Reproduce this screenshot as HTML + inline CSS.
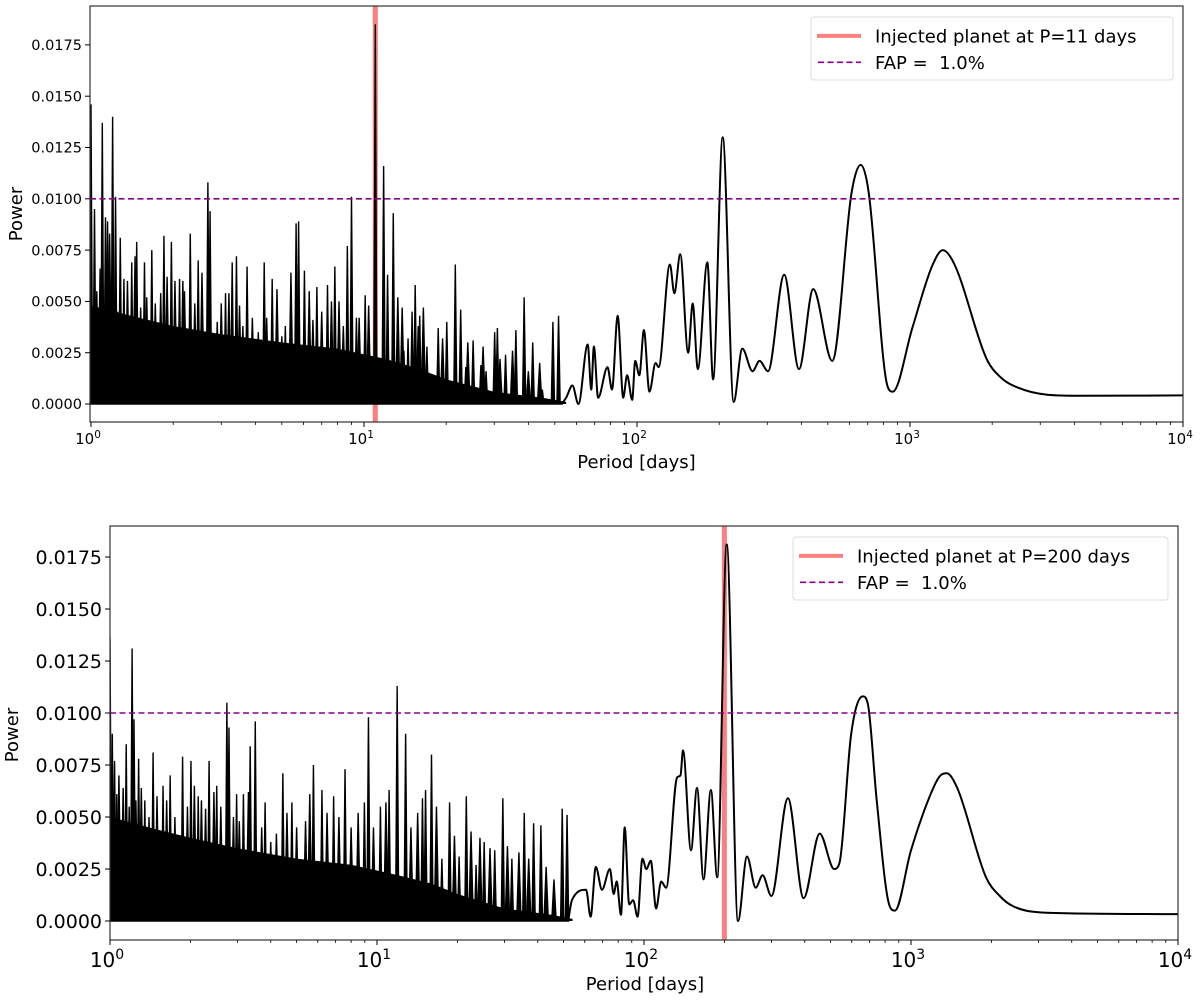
<!DOCTYPE html>
<html><head><meta charset="utf-8">
<style>
html,body{margin:0;padding:0;background:#fff;}
svg{display:block;font-family:"DejaVu Sans","Liberation Sans",sans-serif;}
</style></head>
<body>
<svg id="chart" width="1200" height="1001" viewBox="0 0 1200 1001"></svg>
<script>
// ---------- data: top panel ----------
const topSpikeP=[1.0,1.03,1.10,1.13,1.15,1.20,1.23,1.28,1.32,1.41,1.47,1.57,1.67,1.85,1.97,2.11,2.31,2.47,2.68,2.73,3.11,3.29,3.41,3.73,4.31,4.61,5.15,5.64,5.76,6.05,6.72,7.35,7.82,8.69,9.0,9.38,10.1,11.0,11.8,12.2,12.8,14.0,14.5,15.0,15.4,16.0,17.0,18.7,20.1,21.6,22.6,23.6,25.1,26.8,28.0,30.1,30.8,33.0,36.0,38.6,41.5,45.0,49.2,51.6];
const topSpikeV=[0.0146,0.0095,0.0137,0.0091,0.0089,0.0140,0.0101,0.0081,0.0061,0.0069,0.0079,0.0069,0.0075,0.0082,0.0079,0.0061,0.0083,0.0070,0.0108,0.0094,0.0054,0.0069,0.0072,0.0067,0.0069,0.0061,0.0038,0.0088,0.0089,0.0065,0.0057,0.0058,0.0067,0.0077,0.0101,0.0042,0.0053,0.0185,0.0116,0.0063,0.0093,0.0026,0.0032,0.0045,0.0058,0.0043,0.0028,0.0037,0.0040,0.0068,0.0046,0.0018,0.0031,0.0019,0.0016,0.0035,0.0037,0.0024,0.0036,0.0052,0.0030,0.0007,0.0040,0.0043];
const topMinorP=[1.05,1.08,1.17,1.25,1.36,1.45,1.52,1.6,1.72,1.8,1.9,2.03,2.17,2.2,2.4,2.55,2.9,3.0,3.2,3.5,3.6,3.9,4.1,4.4,4.8,5.0,5.4,6.3,6.5,7.0,7.6,8.1,8.4,9.6,10.4,13.3,13.8,15.8,16.5,19.4,24,27.3,31.5,35,40,44];
const topMinorV=[0.0055,0.0066,0.0083,0.0045,0.0060,0.0072,0.0047,0.0052,0.0049,0.0054,0.0062,0.0060,0.0060,0.0055,0.0049,0.0064,0.0040,0.0049,0.0054,0.0048,0.0038,0.0042,0.0035,0.0042,0.0056,0.0033,0.0064,0.0055,0.0041,0.0045,0.0050,0.0050,0.0038,0.0042,0.0048,0.0052,0.0047,0.0038,0.0047,0.0032,0.0030,0.0028,0.0022,0.0026,0.0016,0.0020];
const topEnvP=[1,1.5,2,3,5,8,12,16,20,30,45,55];
const topEnvV=[0.0048,0.0042,0.0038,0.0034,0.0030,0.0027,0.0022,0.0017,0.0012,0.0006,0.0003,0.0001];
const topCurveP=[53,55,58,61,66,68,69.5,72,78,81,85,89,92,96,98.5,102,106,111,117,120,132,137,144,154,160,167,181,190,206,226,243,265,281,302,346,392,442,519,611,660,706,826,864,1022,1203,1319,1456,1908,2148,2482,3180,4180,10000];
const topCurveV=[0.0000,0.0003,0.0009,0.0000,0.0029,0.0007,0.0028,0.0003,0.0018,0.0007,0.0043,0.0003,0.0014,0.0002,0.0021,0.0014,0.0036,0.0006,0.0020,0.0018,0.0068,0.0054,0.0073,0.0025,0.0049,0.0017,0.0069,0.0012,0.0130,0.0001,0.0027,0.0016,0.0021,0.0016,0.0063,0.0017,0.0056,0.0021,0.0103,0.01165,0.0103,0.0009,0.0006,0.00375,0.0067,0.0075,0.0068,0.0022,0.0013,0.0008,0.00045,0.0004,0.00042];
const topInjected=11;
// ---------- data: bottom panel ----------
const botSpikeP=[1.0,1.02,1.04,1.06,1.15,1.21,1.23,1.28,1.35,1.45,1.58,1.68,1.87,2.01,2.14,2.35,2.51,2.74,2.79,2.98,3.16,3.35,3.50,3.81,4.44,4.80,5.78,6.22,6.88,7.59,8.97,9.29,10.3,11.1,11.9,12.8,14.8,15.2,16.0,17.5,18.7,20.3,21.6,23.5,25.2,27.6,29.6,32.0,35.6,38.6,41.1,49.4,51.5];
const botSpikeV=[0.0136,0.0090,0.0077,0.0061,0.0085,0.0131,0.0097,0.0078,0.0058,0.0081,0.0065,0.0070,0.0079,0.0077,0.0060,0.0077,0.0065,0.0105,0.0093,0.0061,0.0061,0.0084,0.0096,0.0057,0.0071,0.0057,0.0075,0.0063,0.0060,0.0073,0.0057,0.0098,0.0055,0.0063,0.0113,0.0090,0.0059,0.0063,0.0080,0.0030,0.0057,0.0031,0.0060,0.0027,0.0038,0.0034,0.0059,0.0030,0.0052,0.0047,0.0046,0.0054,0.0051];
const botMinorP=[1.08,1.12,1.18,1.25,1.31,1.4,1.5,1.63,1.75,1.95,2.07,2.2,2.28,2.45,2.6,2.9,3.05,3.3,3.7,4.0,4.2,4.6,5.0,5.4,5.6,6.5,7.2,8.0,8.5,9.7,10.8,13.4,14.2,16.7,19.5,22.5,24.3,26.5,30.8,34,37,43,46];
const botMinorV=[0.0070,0.0064,0.0055,0.0058,0.0064,0.0050,0.0060,0.0058,0.0050,0.0055,0.0065,0.0058,0.0054,0.0062,0.0055,0.0050,0.0048,0.0062,0.0045,0.0038,0.0042,0.0052,0.0045,0.0048,0.0061,0.0052,0.0050,0.0045,0.0052,0.0045,0.0057,0.0045,0.0052,0.0055,0.0041,0.0043,0.0040,0.0035,0.0036,0.0033,0.0030,0.0026,0.0020];
const botEnvP=[1,1.5,2,3,5,8,12,16,20,30,45,54];
const botEnvV=[0.0050,0.0044,0.0040,0.0035,0.0030,0.0027,0.0022,0.0018,0.0013,0.0006,0.0003,0.0001];
const botCurveP=[52,53.7,60.7,63.1,66,69.6,74.5,77,79,82,84.7,88,91,94.6,98.6,102,106,111,116,121,133,137,140,150,158,167,178,188,204,225,243,262,278,300,346,396,455,515,540,597,660,690,744,828,870,1000,1203,1290,1360,1490,1910,2150,2420,3220,10000];
const botCurveV=[0.0000,0.0010,0.0015,0.0002,0.0026,0.0015,0.0025,0.0013,0.0019,0.0003,0.0045,0.0008,0.0010,0.0002,0.0030,0.0025,0.0029,0.0006,0.0019,0.0016,0.0069,0.0070,0.0082,0.0034,0.0064,0.0020,0.0063,0.0021,0.0181,0.0000,0.0031,0.0016,0.0022,0.0012,0.0059,0.0011,0.0042,0.0025,0.0028,0.0090,0.0108,0.0104,0.0058,0.0008,0.0005,0.0034,0.0063,0.0070,0.0071,0.0064,0.0021,0.0012,0.0007,0.0004,0.00033];
const botInjected=200;
const yTickVals=[0,0.0025,0.005,0.0075,0.01,0.0125,0.015,0.0175];
const yTickLabels=["0.0000","0.0025","0.0050","0.0075","0.0100","0.0125","0.0150","0.0175"];
const xTickExps=[0,1,2,3,4];
const fapLevel=0.01;

const NS="http://www.w3.org/2000/svg";
const svg=document.getElementById('chart');
function mk(tag,attrs,parent){const e=document.createElementNS(NS,tag);for(const k in attrs)e.setAttribute(k,attrs[k]);(parent||svg).appendChild(e);return e;}

function monotonePath(pts){
  const n=pts.length;const dx=[],m=[],t=new Array(n);
  for(let i=0;i<n-1;i++){dx.push(pts[i+1][0]-pts[i][0]);m.push((pts[i+1][1]-pts[i][1])/dx[i]);}
  t[0]=m[0];t[n-1]=m[n-2];
  for(let i=1;i<n-1;i++){t[i]=(m[i-1]*m[i]<=0)?0:(m[i-1]+m[i])/2;}
  for(let i=0;i<n-1;i++){if(m[i]===0){t[i]=0;t[i+1]=0;continue;}const a=t[i]/m[i],b=t[i+1]/m[i],s=a*a+b*b;if(s>9){const k=3/Math.sqrt(s);t[i]=k*a*m[i];t[i+1]=k*b*m[i];}}
  let d='M'+pts[0][0].toFixed(1)+','+pts[0][1].toFixed(1);
  for(let i=0;i<n-1;i++){const h=dx[i]/3;
    d+=' C'+(pts[i][0]+h).toFixed(1)+','+(pts[i][1]+t[i]*h).toFixed(1)+' '+(pts[i+1][0]-h).toFixed(1)+','+(pts[i+1][1]-t[i+1]*h).toFixed(1)+' '+pts[i+1][0].toFixed(1)+','+pts[i+1][1].toFixed(1);}
  return d;
}

function panel(cfg){
  const g=mk('g',{});
  
  
  const xs=p=>cfg.x0+Math.log10(p)*cfg.dec;
  const ys=v=>cfg.y0-v/0.0025*cfg.yu;
  const clip='clip-'+cfg.name;
  const cp=mk('clipPath',{id:clip},g);mk('rect',{x:cfg.L,y:cfg.T,width:cfg.R-cfg.L,height:cfg.B-cfg.T},cp);
  const plot=mk('g',{'clip-path':'url(#'+clip+')'},g);
  const inj=mk('line',{x1:xs(cfg.inj),x2:xs(cfg.inj),y1:cfg.T,y2:cfg.B,stroke:'#fa7f7f',"stroke-width":5},plot);
  
  
  let d='M'+xs(cfg.envP[0])+','+ys(0);
  cfg.envP.forEach((p,i)=>{d+=' L'+xs(p).toFixed(1)+','+ys(cfg.envV[i]).toFixed(1);});
  d+=' L'+xs(cfg.envP[cfg.envP.length-1])+','+ys(0)+'Z';
  const env=mk('path',{d:d,fill:'#000'},plot);
  
  
  function spikes(P,V,w){
    P.forEach((p,i)=>{
      const x=xs(p),y=ys(V[i]);
      const s=mk('polyline',{points:(x-w)+','+ys(0)+' '+x+','+y+' '+(x+w)+','+ys(0),fill:'#000',stroke:'#000','stroke-width':1.4,'stroke-linejoin':'miter'},plot);
      
      
    });
  }
  spikes(cfg.mnP,cfg.mnV,2.2);
  spikes(cfg.spP,cfg.spV,1.6);
  mk('line',{x1:cfg.L,x2:xs(cfg.cP[0])+1,y1:ys(0),y2:ys(0),stroke:'#000','stroke-width':1.5},plot);
  const pts=cfg.cP.map((p,i)=>[xs(p),ys(cfg.cV[i])]);
  const curve=mk('path',{d:monotonePath(pts),fill:'none',stroke:'#000','stroke-width':2,'stroke-linejoin':'round'},plot);
  
  
  const fap=mk('line',{x1:cfg.L,x2:cfg.R,y1:ys(fapLevel),y2:ys(fapLevel),stroke:'#8b008b','stroke-width':1.6,'stroke-dasharray':'6,3.5'},plot);
  
  
  const fr=mk('rect',{x:cfg.L,y:cfg.T,width:cfg.R-cfg.L,height:cfg.B-cfg.T,fill:'none',stroke:'#333','stroke-width':1.2},g);
  
  
  yTickVals.forEach((v,i)=>{
    const y=ys(v);
    mk('line',{x1:cfg.L-5,x2:cfg.L,y1:y,y2:y,stroke:'#000','stroke-width':1},g);
    const t=mk('text',{x:cfg.L-8,y:y+cfg.yfs*0.36,'text-anchor':'end','font-size':cfg.yfs,fill:'#000'},g);
    t.textContent=yTickLabels[i];
    
    
  });
  xTickExps.forEach(e=>{
    const x=xs(Math.pow(10,e));
    mk('line',{x1:x,x2:x,y1:cfg.B,y2:cfg.B+5,stroke:'#000','stroke-width':1},g);
    const t=mk('text',{x:x-3,y:cfg.B+cfg.xfs+7,'text-anchor':'middle','font-size':cfg.xfs,fill:'#000'},g);
    t.textContent='10';
    const sup=mk('tspan',{dy:-cfg.xfs*0.4,'font-size':cfg.xfs*0.7},t);sup.textContent=String(e);
    
    
    if(e<4)for(let m=2;m<10;m++){const xm=xs(m*Math.pow(10,e));mk('line',{x1:xm,x2:xm,y1:cfg.B,y2:cfg.B+3,stroke:'#000','stroke-width':0.8},g);}
  });
  const xl=mk('text',{x:(cfg.L+cfg.R)/2+(cfg.xlOff||0),y:cfg.B+cfg.xlDy,'text-anchor':'middle','font-size':cfg.lfs,fill:'#000'},g);
  xl.textContent='Period [days]';
  
  
  const yl=mk('text',{x:0,y:0,'text-anchor':'middle','font-size':cfg.lfs,fill:'#000',transform:'translate('+cfg.ylX+','+cfg.ylY+') rotate(-90)'},g);
  yl.textContent='Power';
  
  
  const lg=mk('g',{},g);
  
  
  mk('rect',{x:cfg.lgX,y:cfg.lgY,width:cfg.lgW,height:cfg.lgH,rx:3,fill:'#fff','fill-opacity':0.85,stroke:'#ddd','stroke-width':1},lg);
  const r1=cfg.lgY+cfg.lgH*0.3, r2=cfg.lgY+cfg.lgH*0.72;
  mk('line',{x1:cfg.lgX+6,x2:cfg.lgX+50,y1:r1,y2:r1,stroke:'#fa7f7f','stroke-width':4},lg);
  mk('line',{x1:cfg.lgX+7,x2:cfg.lgX+50,y1:r2,y2:r2,stroke:'#8b008b','stroke-width':1.6,'stroke-dasharray':'6,3.5'},lg);
  const t1=mk('text',{x:cfg.lgX+64,y:r1+cfg.lgfs*0.36,'font-size':cfg.lgfs,fill:'#000'},lg);
  t1.textContent='Injected planet at P='+cfg.inj+' days';
  
  
  const t2=mk('text',{x:cfg.lgX+64,y:r2+cfg.lgfs*0.36,'font-size':cfg.lgfs,fill:'#000'},lg);
  t2.textContent='FAP =  1.0%';
  t2.style.whiteSpace='pre';
  
  
}

panel({name:'top-panel',L:90,R:1183,T:6,B:422,x0:91,dec:273,y0:404,yu:51.3,
  spP:topSpikeP,spV:topSpikeV,mnP:topMinorP,mnV:topMinorV,envP:topEnvP,envV:topEnvV,cP:topCurveP,cV:topCurveV,inj:topInjected,
  yfs:14.5,xfs:15,lfs:18,xlDy:46,ylX:22,ylY:214,
  lgX:811,lgY:17,lgW:362,lgH:63,lgfs:18});
panel({name:'bottom-panel',L:110,R:1178,T:526,B:940,x0:110,dec:267,y0:921,yu:52,
  spP:botSpikeP,spV:botSpikeV,mnP:botMinorP,mnV:botMinorV,envP:botEnvP,envV:botEnvV,cP:botCurveP,cV:botCurveV,inj:botInjected,
  yfs:19,xfs:20,lfs:18,xlDy:50,xlOff:1,ylX:18,ylY:735,
  lgX:793,lgY:537,lgW:375,lgH:63,lgfs:18});
</script>
</body></html>
